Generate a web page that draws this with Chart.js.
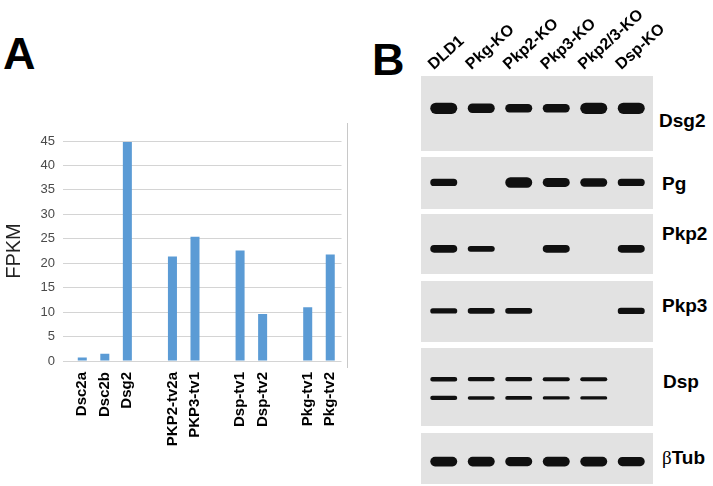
<!DOCTYPE html>
<html>
<head>
<meta charset="utf-8">
<script src="https://cdn.jsdelivr.net/npm/chart.js@4/dist/chart.umd.min.js"></script>
<style>
  html, body { margin: 0; padding: 0; background: #ffffff; }
  body { width: 713px; height: 486px; position: relative; overflow: hidden; font-family: "Liberation Sans", Arial, sans-serif; }
  canvas, .abs { position: absolute; }
  .letter { position: absolute; font-weight: bold; font-size: 45px; line-height: 45px; color: #000; }
  .strip { position: absolute; background: #e2e2e2; }
  .rowlab { position: absolute; font-weight: bold; font-size: 19px; line-height: 19px; color: #000; white-space: nowrap; }
  .beta { font-family: "Liberation Serif", serif; font-weight: normal; }
  .rightline { position: absolute; left: 347px; top: 123px; width: 0; height: 245px; border-left: 1.5px solid #c8c8c8; }
</style>
</head>
<body>
<div class="letter" style="left:3px; top:31px;">A</div>
<div class="letter" style="left:372px; top:37px;">B</div>
<div class="rightline"></div>
<canvas id="chartA" width="360" height="486" style="left:0; top:0;"></canvas>
<div id="panelB"></div>

<script>
// ---------------- Panel A data ----------------
const genes = ['Dsc2a', 'Dsc2b', 'Dsg2', 'PKP2-tv2a', 'PKP3-tv1', 'Dsp-tv1', 'Dsp-tv2', 'Pkg-tv1', 'Pkg-tv2'];
const fpkm  = [0.7, 1.5, 44.8, 21.4, 25.4, 22.6, 9.6, 11.0, 21.8];
const groupSizes = [3, 2, 2, 2];          // genes per group, a blank slot between groups
const yTicks = [0, 5, 10, 15, 20, 25, 30, 35, 40, 45];

// ---------------- Panel B data ----------------
const lanes = ['DLD1', 'Pkg-KO', 'Pkp2-KO', 'Pkp3-KO', 'Pkp2/3-KO', 'Dsp-KO'];
const proteins = ['Dsg2', 'Pg', 'Pkp2', 'Pkp3', 'Dsp', 'βTub'];
// relative band strength per lane (0 = no band)
const dsg2Bands  = [1.0, 0.85, 0.75, 0.75, 1.0, 1.0];
const pgBands    = [0.7, 0, 1.0, 0.85, 0.8, 0.7];
const pkp2Bands  = [0.85, 0.65, 0, 0.85, 0, 0.85];
const pkp3Bands  = [0.65, 0.7, 0.7, 0, 0, 0.8];
const dspUpper   = [0.65, 0.6, 0.6, 0.55, 0.55, 0];
const dspLower   = [0.6, 0.5, 0.55, 0.45, 0.45, 0];
const tubBands   = [1.0, 1.0, 0.95, 1.0, 1.0, 0.95];

// ---------------- Panel A chart ----------------
const labelsA = [];
const valuesA = [];
let gi = 0;
groupSizes.forEach((n, g) => {
  if (g > 0) { labelsA.push(''); valuesA.push(null); }
  for (let k = 0; k < n; k++) { labelsA.push(genes[gi]); valuesA.push(fpkm[gi]); gi++; }
});

new Chart(document.getElementById('chartA'), {
  type: 'bar',
  data: {
    labels: labelsA,
    datasets: [{
      data: valuesA,
      backgroundColor: '#5b9bd5',
      borderWidth: 0,
      barPercentage: 0.4,
      categoryPercentage: 1.0
    }]
  },
  options: {
    responsive: false,
    animation: false,
    devicePixelRatio: 1,
    layout: { padding: { left: 2, right: 18, top: 141, bottom: 0 } },
    plugins: { legend: { display: false }, tooltip: { enabled: false } },
    scales: {
      x: {
        grid: { display: false, drawTicks: false },
        border: { display: false },
        ticks: {
          autoSkip: false, minRotation: 90, maxRotation: 90, padding: 11,
          color: '#000', font: { family: 'Liberation Sans', size: 15, weight: 'bold' }
        },
        afterFit: (s) => { s.height = 125; }
      },
      y: {
        min: 0, max: 45,
        afterBuildTicks: (s) => { s.ticks = yTicks.map(v => ({ value: v })); },
        grid: { color: '#d4d4d4', lineWidth: 1, drawTicks: true, tickLength: 8 },
        border: { display: false },
        ticks: { padding: 8, color: '#4a4a4a', font: { family: 'Liberation Sans', size: 13 } },
        title: {
          display: true, text: 'FPKM', color: '#222',
          font: { family: 'Liberation Sans', size: 20 }, padding: { top: 0, bottom: 0 }
        },
        afterFit: (s) => { s.width = 69; }
      }
    }
  }
});

// ---------------- Panel B charts ----------------
// layout of each blot strip (pixels) and band placement inside it (fractions)
const stripLayout = [
  { top: 76,  bottom: 151, maxT: 0.15 },
  { top: 157, bottom: 209, maxT: 0.20 },
  { top: 214, bottom: 274, maxT: 0.15 },
  { top: 281, bottom: 342, maxT: 0.13 },
  { top: 348, bottom: 426, maxT: 0.09 },
  { top: 433, bottom: 484, maxT: 0.19 }
];
const rowLabelPos = [
  { left: 659, top: 111 }, { left: 662, top: 174 }, { left: 662, top: 224 },
  { left: 662, top: 296 }, { left: 663, top: 372 }, { left: 662, top: 448 }
];
const stripLeft = 421, stripRight = 653, laneLeft = 425, laneRight = 650;

const bandSets = [
  [{ vals: dsg2Bands, c: 0.43 }],
  [{ vals: pgBands, c: 0.49 }],
  [{ vals: pkp2Bands, c: 0.58 }],
  [{ vals: pkp3Bands, c: 0.49 }],
  [{ vals: dspUpper, c: 0.40 }, { vals: dspLower, c: 0.64 }],
  [{ vals: tubBands, c: 0.56 }]
];

const panelB = document.getElementById('panelB');
proteins.forEach((prot, r) => {
  const L = stripLayout[r];
  const strip = document.createElement('div');
  strip.className = 'strip';
  strip.style.left = stripLeft + 'px';
  strip.style.top = L.top + 'px';
  strip.style.width = (stripRight - stripLeft) + 'px';
  strip.style.height = (L.bottom - L.top) + 'px';
  panelB.appendChild(strip);

  const lab = document.createElement('div');
  lab.className = 'rowlab';
  lab.style.left = rowLabelPos[r].left + 'px';
  lab.style.top = rowLabelPos[r].top + 'px';
  if (prot.startsWith('β')) {
    lab.innerHTML = '<span class="beta">β</span>' + prot.slice(1);
  } else {
    lab.textContent = prot;
  }
  panelB.appendChild(lab);

  const first = r === 0;
  const cv = document.createElement('canvas');
  const cTop = first ? 0 : L.top;
  const cW = first ? (713 - stripLeft) : (stripRight - stripLeft);
  const cH = L.bottom - cTop;
  cv.width = cW; cv.height = cH;
  cv.style.left = stripLeft + 'px';
  cv.style.top = cTop + 'px';
  panelB.appendChild(cv);

  const datasets = bandSets[r].map(b => ({
    data: b.vals.map(v => v > 0 ? [b.c - v * L.maxT / 2, b.c + v * L.maxT / 2] : null),
    backgroundColor: '#101010',
    borderWidth: 0,
    borderSkipped: false,
    borderRadius: 6,
    barPercentage: 0.72,
    categoryPercentage: 1.0,
    grouped: false
  }));

  new Chart(cv, {
    type: 'bar',
    data: { labels: lanes, datasets },
    options: {
      responsive: false,
      animation: false,
      devicePixelRatio: 1,
      layout: { padding: { left: laneLeft - stripLeft, right: cW - (laneRight - stripLeft), top: 0, bottom: 0 } },
      plugins: { legend: { display: false }, tooltip: { enabled: false } },
      scales: {
        x: {
          display: first,
          position: 'top',
          grid: { display: false, drawTicks: false },
          border: { display: false },
          ticks: {
            autoSkip: false, minRotation: 42, maxRotation: 42, padding: 2,
            color: '#000', font: { family: 'Liberation Sans', size: 16, weight: 'bold' }
          },
          afterFit: (s) => { if (first) s.height = L.top; }
        },
        y: { display: false, min: 0, max: 1, reverse: true }
      }
    }
  });
});
</script>
</body>
</html>
